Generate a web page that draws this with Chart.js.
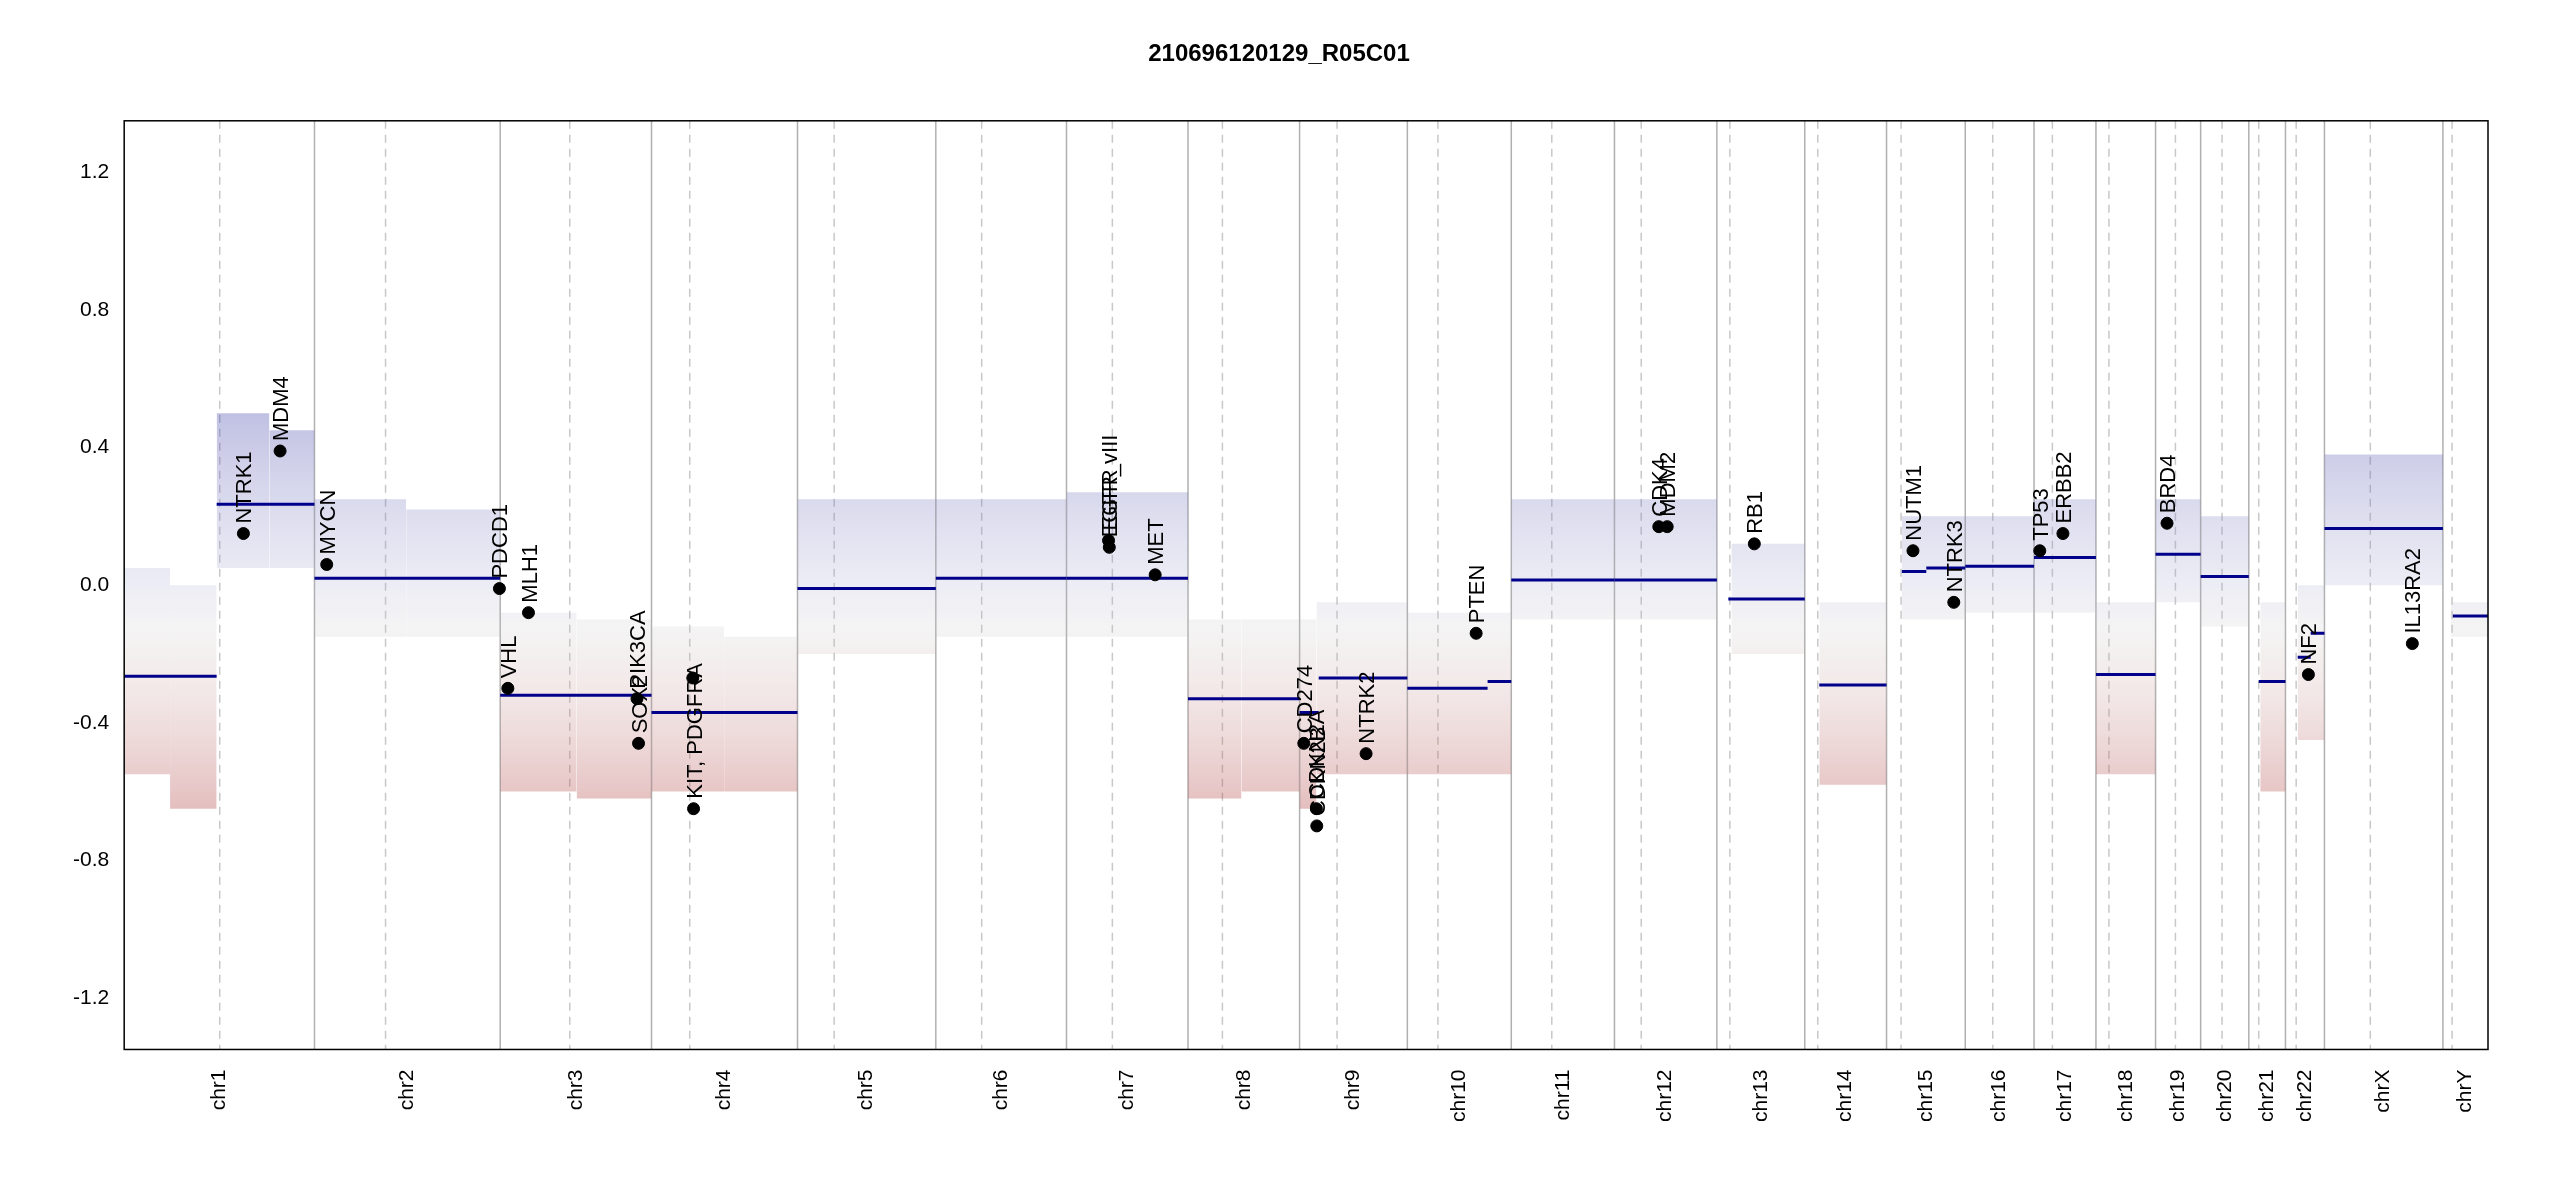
<!DOCTYPE html>
<html>
<head>
<meta charset="utf-8">
<script src="https://cdn.jsdelivr.net/npm/chart.js@4/dist/chart.umd.min.js"></script>
<style>body{margin:0;background:#fff}</style>
</head>
<body>
<canvas id="cnv" width="2550" height="1200"></canvas>
<script>
// chromosome names, lengths and centromeres (Mb)
var chromNames = ['chr1','chr2','chr3','chr4','chr5','chr6','chr7','chr8','chr9','chr10','chr11','chr12','chr13','chr14','chr15','chr16','chr17','chr18','chr19','chr20','chr21','chr22','chrX','chrY'];
var chromLen = [249,243,198,191,181,171,159,146,141,136,135,134,115,107,103,90,81,78,59,63,48,51,155,59];
var centromere = [125,93,91,50,48,60,60,45,49,40,53,35,17,17,19,36,24,17,26,28,13,14,60,12];
var yTicks = [-1.2,-0.8,-0.4,0.0,0.4,0.8,1.2];

// segments: chrom, start, end, mean
var segChrom = ['chr1','chr1','chr2','chr3','chr4','chr5','chr6','chr7','chr8','chr9','chr9','chr10','chr10','chr11','chr12','chr13','chr14','chr15','chr15','chr16','chr17','chr18','chr19','chr20','chr21','chr22','chr22','chrX','chrY'];
var segStart = [0,121,0,0,0,0,0,0,0,0,25,0,105,0,0,15,19,20,52,0,0,0,0,0,13,16,33,0,13];
var segEnd   = [121,249,243,198,191,181,171,159,146,25,141,105,136,135,134,115,107,52,103,90,81,78,59,63,48,33,51,155,59];
var segValue = [-0.265,0.235,0.02,-0.32,-0.37,-0.01,0.02,0.02,-0.33,-0.37,-0.27,-0.30,-0.28,0.015,0.015,-0.04,-0.29,0.04,0.05,0.055,0.08,-0.26,0.09,0.025,-0.28,-0.21,-0.14,0.165,-0.09];

// probe cloud extent per bin: chrom, start, end, low, high
var binChrom = ['chr1','chr1','chr1','chr1','chr2','chr2','chr3','chr3','chr4','chr4','chr5','chr6','chr7','chr8','chr8','chr9','chr9','chr10','chr11','chr12','chr13','chr14','chr15','chr16','chr17','chr18','chr19','chr20','chr21','chr22','chrX','chrY'];
var binStart = [0,60,121,190,0,120,0,100,0,95,0,0,0,0,70,0,22,0,0,0,19,19,20,0,0,0,0,0,15,16,0,10];
var binEnd   = [60,121,190,249,120,243,100,198,95,191,181,171,159,70,146,22,141,136,135,134,115,107,103,90,81,78,59,63,48,51,155,59];
var binLow   = [-0.55,-0.65,0.05,0.05,-0.15,-0.15,-0.6,-0.62,-0.6,-0.6,-0.2,-0.15,-0.15,-0.62,-0.6,-0.65,-0.55,-0.55,-0.1,-0.1,-0.2,-0.58,-0.1,-0.08,-0.08,-0.55,-0.05,-0.12,-0.6,-0.45,0.0,-0.15];
var binHigh  = [0.05,0.0,0.5,0.45,0.25,0.22,-0.08,-0.1,-0.12,-0.15,0.25,0.25,0.27,-0.1,-0.1,-0.1,-0.05,-0.08,0.25,0.25,0.12,-0.05,0.2,0.2,0.25,-0.05,0.25,0.2,-0.05,0.0,0.38,-0.05];

// genes of interest
var geneName  = ['NTRK1','MDM4','MYCN','PDCD1','VHL','MLH1','SOX2','PIK3CA','KIT, PDGFRA','','EGFR','EGFR_vIII','MET','CDKN2A','CDKN2B','CD274','NTRK2','PTEN','CDK4','MDM2','RB1','NUTM1','NTRK3','TP53','ERBB2','BRD4','NF2','IL13RA2'];
var geneChrom = ['chr1','chr1','chr2','chr2','chr3','chr3','chr3','chr3','chr4','chr4','chr7','chr7','chr7','chr9','chr9','chr9','chr9','chr10','chr12','chr12','chr13','chr15','chr15','chr17','chr17','chr19','chr22','chrX'];
var genePos   = [156,204,16,242,10,37,181,179,55,54,55,56,116,22,22.5,5.5,87,90,58,69,49,34.6,88,7.5,37.8,15,30,115];
var geneValue = [0.15,0.39,0.06,-0.01,-0.30,-0.08,-0.46,-0.33,-0.65,-0.27,0.13,0.11,0.03,-0.65,-0.70,-0.46,-0.49,-0.14,0.17,0.17,0.12,0.10,-0.05,0.10,0.15,0.18,-0.26,-0.17];

var offset = {}, acc = 0;
chromNames.forEach(function(c, i){ offset[c] = acc; acc += chromLen[i]; });
var totalLen = acc;
function gx(c, p){ return offset[c] + p; }

var datasets = [];
function cloudColor(ctx){
    var ch = ctx.chart;
    if (!ch.chartArea) return 'rgba(180,180,180,0.2)';
    var y = ch.scales.y;
    var g = ch.ctx.createLinearGradient(0, y.getPixelForValue(0.5), 0, y.getPixelForValue(-0.8));
    g.addColorStop(0, 'rgba(60,60,170,0.32)');
    g.addColorStop(0.38, 'rgba(170,170,210,0.22)');
    g.addColorStop(0.48, 'rgba(200,200,200,0.2)');
    g.addColorStop(0.62, 'rgba(200,150,150,0.22)');
    g.addColorStop(1, 'rgba(165,20,20,0.38)');
    return g;
}
for (var i = 0; i < binChrom.length; i++) {
    datasets.push({type:'line', data:[{x:gx(binChrom[i],binStart[i]),y:binHigh[i]},{x:gx(binChrom[i],binEnd[i]),y:binHigh[i]}],
        borderWidth:0, pointRadius:0, fill:false, order:5});
    datasets.push({type:'line', data:[{x:gx(binChrom[i],binStart[i]),y:binLow[i]},{x:gx(binChrom[i],binEnd[i]),y:binLow[i]}],
        borderWidth:0, pointRadius:0, fill:'-1', backgroundColor:cloudColor, order:5});
}
for (var i = 0; i < segChrom.length; i++) {
    datasets.push({type:'line', data:[{x:gx(segChrom[i],segStart[i]),y:segValue[i]},{x:gx(segChrom[i],segEnd[i]),y:segValue[i]}],
        borderColor:'#00008b', borderWidth:3, pointRadius:0, fill:false, order:2});
}
datasets.push({type:'scatter', label:'genes', data:geneName.map(function(n,i){ return {x:gx(geneChrom[i],genePos[i]), y:geneValue[i], name:n}; }),
    backgroundColor:'#000', borderColor:'#000', pointRadius:6, order:1});

var chromLines = {
    id:'chromLines',
    beforeDatasetsDraw: function(ch){
        var c = ch.ctx, a = ch.chartArea, x = ch.scales.x;
        c.save();
        c.lineWidth = 1.5;
        chromNames.forEach(function(n, i){
            if (i > 0) {
                var px = x.getPixelForValue(offset[n]);
                c.strokeStyle = '#b0b0b0'; c.setLineDash([]);
                c.beginPath(); c.moveTo(px, a.top); c.lineTo(px, a.bottom); c.stroke();
            }
            var cx = x.getPixelForValue(offset[n] + centromere[i]);
            c.strokeStyle = '#c8c8c8'; c.setLineDash([8,6]);
            c.beginPath(); c.moveTo(cx, a.top); c.lineTo(cx, a.bottom); c.stroke();
        });
        c.restore();
    },
    afterDatasetsDraw: function(ch){
        var c = ch.ctx, meta = ch.getDatasetMeta(ch.data.datasets.length - 1);
        var d = ch.data.datasets[ch.data.datasets.length - 1].data;
        c.save();
        c.font = '22px "Liberation Sans", Arial, sans-serif';
        c.fillStyle = '#000';
        c.textBaseline = 'middle';
        meta.data.forEach(function(pt, i){
            if (!d[i].name) return;
            c.save();
            c.translate(pt.x + 2, pt.y - 10);
            c.rotate(-Math.PI/2);
            c.fillText(d[i].name, 0, 0);
            c.restore();
        });
        var a = ch.chartArea;
        c.strokeStyle = '#000'; c.lineWidth = 1.5;
        c.strokeRect(a.left, a.top, a.right - a.left, a.bottom - a.top);
        c.restore();
    }
};

new Chart(document.getElementById('cnv'), {
    data: {datasets: datasets},
    options: {
        responsive:false, animation:false,
        layout:{padding:{top:20, right:62, left:70, bottom:70}},
        plugins:{
            legend:{display:false}, tooltip:{enabled:false},
            title:{display:true, text:'210696120129_R05C01', color:'#000',
                font:{family:'"Liberation Sans", Arial', size:24, weight:'bold'}, padding:{top:20, bottom:52}}
        },
        scales:{
            x:{type:'linear', min:0, max:totalLen, grid:{display:false, drawTicks:true, tickLength:12, color:'#000'},
                border:{display:false},
                afterBuildTicks: function(ax){
                    ax.ticks = chromNames.map(function(n,i){ return {value: offset[n] + chromLen[i]/2}; });
                },
                ticks:{autoSkip:false, maxRotation:90, minRotation:90, color:'#000', padding:8,
                    font:{family:'"Liberation Sans", Arial', size:21},
                    callback:function(v, i){ return chromNames[i]; }}
            },
            y:{min:-1.35, max:1.35, grid:{display:false, drawTicks:true, tickLength:12}, border:{display:false},
                afterBuildTicks: function(ax){ ax.ticks = yTicks.map(function(v){ return {value:v}; }); },
                ticks:{color:'#000', font:{family:'"Liberation Sans", Arial', size:21},
                    callback:function(v){ return v.toFixed(1); }}
            }
        }
    },
    plugins:[chromLines]
});
</script>
</body>
</html>
